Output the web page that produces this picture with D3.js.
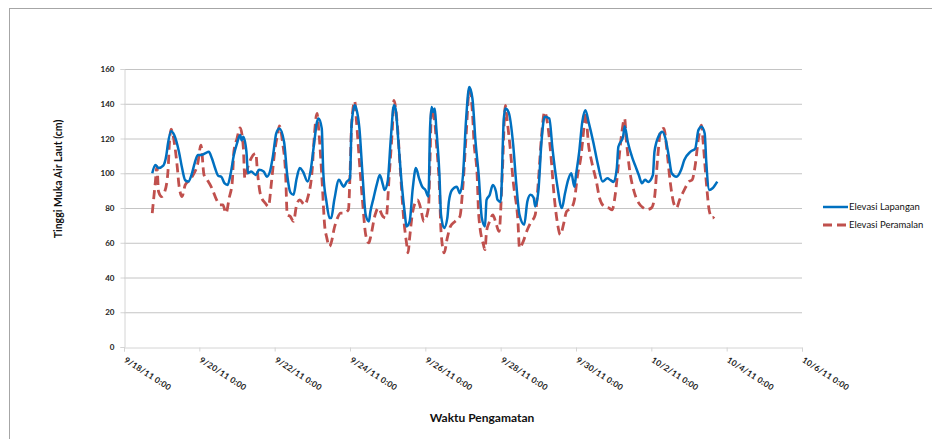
<!DOCTYPE html>
<html>
<head>
<meta charset="utf-8">
<script src="https://cdn.jsdelivr.net/npm/d3@7"></script>
<style>
  body { margin: 0; background: #fff; }
  text { font-family: Lato, "Open Sans", sans-serif; }
</style>
</head>
<body>
<div id="chart"></div>
<script>
// hours counted from 9/18/11 0:00
var startDate = "2011-09-18T00:00:00Z";

var lapanganHours = [18,20,22,25,27,28,30,32,35,37,39,41,43,45,47,49,52,54,56,58,60,62,64,66,68,70,72,74,75,76,78,79,81,84,86,89,91,93,95,97,99,102,104,106,108,110,112,114,117,119,121,123,124,126,127,129,131,132,134,137,139,140,142,144,145,147,148,150,152,154,156,157,159,161,163,165,166,168,170,172,173,175,177,179,180,182,184,186,188,190,192,194,195,196,197,198,199,201,202,204,206,207,209,212,214,216,218,220,222,224,226,228,230,231,233,235,237,238,240,242,243,245,248,250,252,255,257,259,261,262,264,266,268,271,273,276,279,281,283,285,287,288,290,292,294,296,299,302,305,308,310,312,314,315,318,319,321,324,326,328,330,332,334,337,338,341,343,345,347,349,352,355,357,361,364,366,368,370,371,373,375,378];
var lapanganValues = [100,104.7,103,104.4,110.5,117,124.2,122,112.4,103,96,95.2,99,105.7,110.5,110.5,111.6,112.4,108.6,103,98.6,98,94.3,93.3,100,110.5,117.2,122,119,121,112.4,100,101,99,102,101,98,101,110.5,123,125.8,118,99,89,87.6,97,103,101,95.2,102,116.2,129.6,131.5,125.8,100,83.7,74.2,74.2,84.7,96.2,93.3,92.3,95.2,97,127.7,139.1,137.2,125.8,99,76.1,72.3,78,85.7,93.3,99,93.3,90.4,95.2,120,139.1,137.2,116.2,93.3,76.1,69.4,72.3,91.4,103,97.1,92.3,90.4,86.6,125.8,138.2,135.3,137.2,125.8,99,76.1,68.5,74.2,83.7,90.4,92.3,88.5,99,131.5,149.6,143,118,99,74.2,69.4,84.7,87.5,93.3,89.5,84.7,83.5,131.5,137.2,135.3,116.2,93.3,76.1,70.4,83.7,87.6,86,80.9,89.5,118,132.5,131.5,114.3,93.3,80,88.5,96.2,100,92.3,99,112,129.6,136.3,129.6,118,104.8,95.2,97.1,96,95,103,115.2,121,127,118,108.6,103.8,99,94.3,96.2,95,99,112.4,122,123.9,120,110.5,100,98,102,107.6,112.4,114.3,124.8,126.7,122.9,106.6,90.4,91.4,95.2];

var peramalanHours = [18,20,21,22,24,26,28,29,30,32,34,35,37,39,42,44,47,49,51,53,56,59,61,63,65,67,69,70,72,74,76,77,79,81,84,85,87,90,92,94,96,98,99,101,103,104,106,108,110,112,115,117,120,121,123,124,126,128,129,131,132,134,136,138,140,143,144,145,147,148,150,152,154,156,157,160,162,165,167,169,171,172,174,176,178,180,181,182,184,187,189,191,194,195,196,198,199,201,202,204,206,208,211,214,216,218,220,222,223,225,226,229,230,231,233,235,237,239,241,243,244,246,248,251,252,254,257,259,262,264,266,268,270,272,274,276,278,280,282,285,287,289,291,293,294,296,298,301,303,306,309,311,313,315,317,319,320,322,325,328,331,333,336,338,340,342,344,346,348,350,352,354,357,360,362,364,366,368,369,371,373,375,376];
var peramalanValues = [77,95.2,103.8,89.5,86.6,89.5,101,118,125.4,118,103,93.3,86.6,93.3,96.2,99,105.7,116.2,99,96.2,91.4,84.7,81.8,81.8,77,85.7,95.2,112.4,120,126.1,115.2,97.1,103.8,108.6,111.5,101,87.6,82.8,80.9,95.2,112.4,123,127.3,118,99,76.1,75.1,72.3,81.8,84.7,81.8,85.7,103,118,134.4,125.8,99,68.5,63.7,57.9,59.9,68.5,74.2,77,77,79,99,127.7,141.4,131.5,106.6,83.7,64.6,59.9,62.8,76.1,80,75.1,74.2,99,125.8,142,129.6,103,76.1,59.9,54.2,62.8,78,84.7,80,72.3,80,108.6,137.2,129.6,118,91.4,66.5,54.2,62.8,69.4,72.3,75.1,93.3,122,147.7,135.3,118,99,76.1,58.9,56,66.5,72.3,76.1,71.3,66.5,99,139.1,131.5,115.2,95.2,72.3,57,59.9,67.5,71.3,76.1,95.2,121,135.3,127.7,110.5,87.6,72.3,64.6,70.4,78,80,84.7,99,108.6,125.8,135.3,116.2,106.6,95.2,85.7,80.9,80,79,87.6,104.8,122,131.5,120,103,89.5,82.8,80,79,80,85.7,108.6,124.8,125.8,112.4,95.2,83.7,80,84.7,90.4,95.2,96.2,104.8,120,127.7,118,95.2,78,74.2,75];

var xTickDates = ["2011-09-18","2011-09-20","2011-09-22","2011-09-24","2011-09-26","2011-09-28","2011-09-30","2011-10-02","2011-10-04","2011-10-06"];
var yTicks = [0,20,40,60,80,100,120,140,160];
var seriesNames = ["Elevasi Lapangan","Elevasi Peramalan"];

var margin = {top: 69, left: 124, right: 130, bottom: 92};
var W = 932, H = 439;
var width = W - margin.left - margin.right;
var height = H - margin.top - margin.bottom;

var svg = d3.select("#chart").append("svg")
    .attr("width", W)
    .attr("height", H);

// chart frame (only left and top edges show)
svg.append("rect")
    .attr("x", 9.5).attr("y", 8.5)
    .attr("width", 960).attr("height", 460)
    .attr("fill", "none")
    .attr("stroke", "#a6a6a6");

var g = svg.append("g")
    .attr("transform", "translate(" + margin.left + "," + margin.top + ")");

var t0 = new Date(startDate);
var x = d3.scaleUtc()
    .domain([new Date(xTickDates[0] + "T00:00:00Z"), new Date(xTickDates[xTickDates.length - 1] + "T00:00:00Z")])
    .range([0, width]);
var y = d3.scaleLinear()
    .domain([0, 160])
    .range([height, 0]);

// gridlines
g.append("g")
    .selectAll("line")
    .data(yTicks.slice(1))
    .enter().append("line")
    .attr("x1", 0).attr("x2", width)
    .attr("y1", function (d) { return y(d) + 0.5; })
    .attr("y2", function (d) { return y(d) + 0.5; })
    .attr("stroke", "#c4c4c4");

var yAxis = d3.axisLeft(y).tickValues(yTicks).tickSize(4).tickPadding(6);
var yg = g.append("g").attr("transform", "translate(0.5,0)").call(yAxis);
yg.select(".domain").attr("stroke", "#d4d4d4");
yg.selectAll(".tick line").attr("stroke", "#d4d4d4");
yg.selectAll("text")
    .attr("font-size", "8px")
    .attr("font-weight", "bold")
    .attr("fill", "#222");

var fmt = d3.utcFormat("%-m/%-d/%y %-H:%M");
var xAxis = d3.axisBottom(x)
    .tickValues(xTickDates.map(function (d) { return new Date(d + "T00:00:00Z"); }))
    .tickSize(4)
    .tickFormat(fmt);
var xg = g.append("g").attr("transform", "translate(0," + (height + 0.5) + ")").call(xAxis);
xg.select(".domain").attr("stroke", "#d4d4d4");
xg.selectAll(".tick line").attr("stroke", "#d4d4d4");
xg.selectAll("text")
    .attr("font-size", "8.3px")
    .attr("font-weight", "bold")
    .attr("letter-spacing", "0.3px")
    .attr("fill", "#222")
    .attr("text-anchor", "start")
    .attr("dy", "0")
    .attr("y", 0)
    .attr("transform", "translate(-1,14) rotate(33)");

function toPoints(hours, values) {
    return hours.map(function (h, i) {
        return {date: d3.utcHour.offset(t0, h), value: values[i]};
    });
}

var line = d3.line()
    .x(function (d) { return x(d.date); })
    .y(function (d) { return y(d.value); })
    .curve(d3.curveMonotoneX);

g.append("path")
    .datum(toPoints(peramalanHours, peramalanValues))
    .attr("fill", "none")
    .attr("stroke", "#c0504d")
    .attr("stroke-width", 2.8)
    .attr("stroke-dasharray", "9,5")
    .attr("d", line);

g.append("path")
    .datum(toPoints(lapanganHours, lapanganValues))
    .attr("fill", "none")
    .attr("stroke", "#0070c0")
    .attr("stroke-width", 2.5)
    .attr("stroke-linejoin", "round")
    .attr("d", line);

// axis titles
svg.append("text")
    .attr("transform", "translate(62," + (margin.top + 110) + ") rotate(-90)")
    .attr("text-anchor", "middle")
    .attr("font-size", "10.5px")
    .attr("font-weight", "bold")
    .attr("fill", "#111")
    .text("Tinggi Muka Air Laut (cm)");

svg.append("text")
    .attr("x", 482)
    .attr("y", 422)
    .attr("text-anchor", "middle")
    .attr("font-size", "12px")
    .attr("font-weight", "bold")
    .attr("fill", "#111")
    .text("Waktu Pengamatan");

// legend
var legend = svg.append("g").attr("transform", "translate(823,207)");
var styles = [
    {color: "#0070c0", dash: null, width: 2.5},
    {color: "#c0504d", dash: "9,5", width: 2.8}
];
seriesNames.forEach(function (name, i) {
    var row = legend.append("g").attr("transform", "translate(0," + (i * 18) + ")");
    row.append("line")
        .attr("x1", 0).attr("x2", 25)
        .attr("stroke", styles[i].color)
        .attr("stroke-width", styles[i].width)
        .attr("stroke-dasharray", styles[i].dash);
    row.append("text")
        .attr("x", 26)
        .attr("dy", "0.35em")
        .attr("font-size", "9.5px")
        .attr("fill", "#111")
        .text(name);
});
</script>
</body>
</html>
